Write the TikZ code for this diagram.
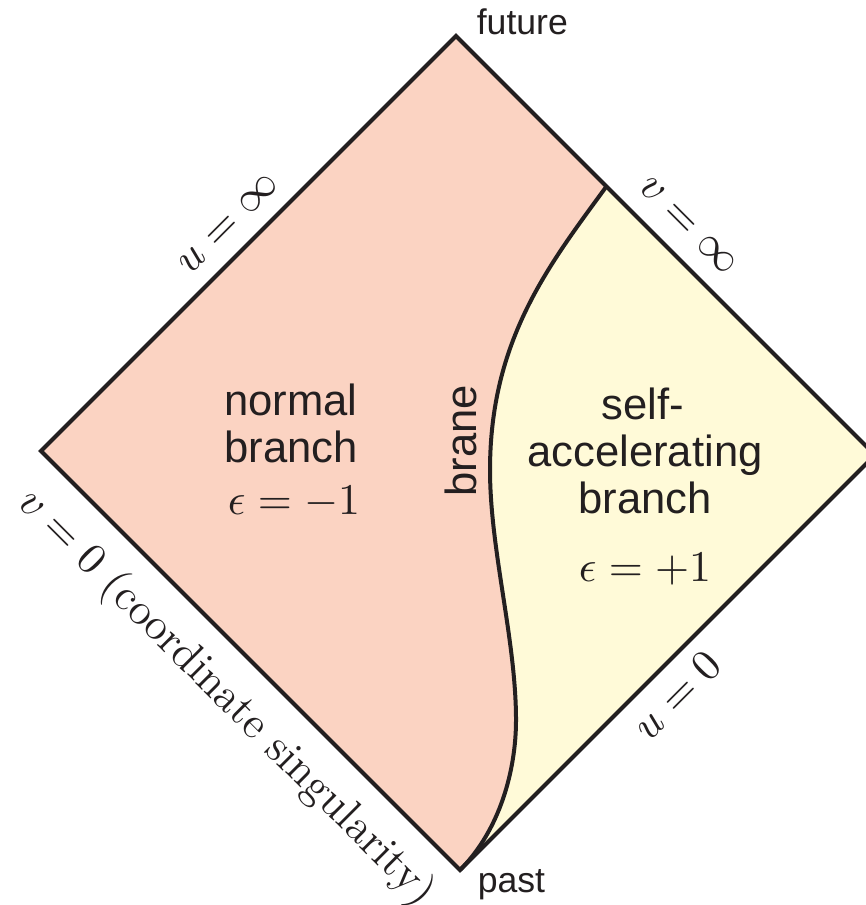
\documentclass[tikz,border=0pt]{standalone}
\usepackage{fontspec}
\newfontfamily\arialf{Liberation Sans}
\definecolor{pinkfill}{RGB}{251,211,194}
\definecolor{yellowfill}{RGB}{255,250,216}
\definecolor{ink}{RGB}{35,31,32}
\tikzset{
  biglbl/.style={font=\arialf\fontsize{10.9}{12}\selectfont, text=ink, inner sep=0pt},
  smalllbl/.style={font=\arialf\fontsize{8.9}{10}\selectfont, text=ink, inner sep=0pt},
  mathlbl/.style={font=\fontsize{11.2}{13}\selectfont, text=ink, inner sep=0pt},
  edgeline/.style={draw=ink, line width=1pt, line join=miter},
  braneline/.style={draw=ink, line width=1pt}
}
\begin{document}
\begin{tikzpicture}[x=0.25pt,y=-0.25pt]
\useasboundingbox (0,0) rectangle (865,905);
\coordinate (T) at (456,36);
\coordinate (L) at (41,451);
\coordinate (B) at (460,870);
\coordinate (R) at (875,455);
\coordinate (J) at (606,187);
\coordinate (M1) at (490,470);
\coordinate (M2) at (516,720);
% regions
\fill[pinkfill] (T) -- (L) -- (B) -- (R) -- cycle;
\fill[yellowfill] (J) .. controls (549,265) and (490,340) .. (M1)
  .. controls (490,550) and (516,640) .. (M2)
  .. controls (516,770) and (500,830) .. (B) -- (R) -- cycle;
% brane
\draw[braneline] (J) .. controls (549,265) and (490,340) .. (M1)
  .. controls (490,550) and (516,640) .. (M2)
  .. controls (516,770) and (500,830) .. (B);
% outline
\draw[edgeline] (T) -- (R) -- (B) -- (L) -- cycle;
% labels
\node[smalllbl, anchor=base west] (future) at (476,35) {future};
\node[smalllbl, anchor=base west] (past) at (477,892) {past};
\node[biglbl, anchor=base] (normal) at (291,416) {normal};
\node[biglbl, anchor=base] (branchA) at (291,463) {branch};
\node[mathlbl, anchor=base] (epsA) at (294,515) {$\epsilon=-1$};
\node[biglbl, anchor=base] (self) at (643,420) {self-};
\node[biglbl, anchor=base] (accel) at (645,467) {accelerating};
\node[biglbl, anchor=base] (branchB) at (645,514) {branch};
\node[mathlbl, anchor=base] (epsB) at (645,582) {$\epsilon=+1$};
\node[biglbl, rotate=90] (brane) at (461,441) {brane};
\node[mathlbl, rotate=45] (uinf) at (229,224) {$u=\infty$};
\node[mathlbl, rotate=-45] (vinf) at (688,226) {$v=\infty$};
\node[mathlbl, rotate=45] (uzero) at (677,695) {$u=0$};
\node[mathlbl, rotate=-45] (vzero) at (226,698) {$v=0\ (\mathrm{coordinate\ singularity})$};
\end{tikzpicture}
\end{document}
